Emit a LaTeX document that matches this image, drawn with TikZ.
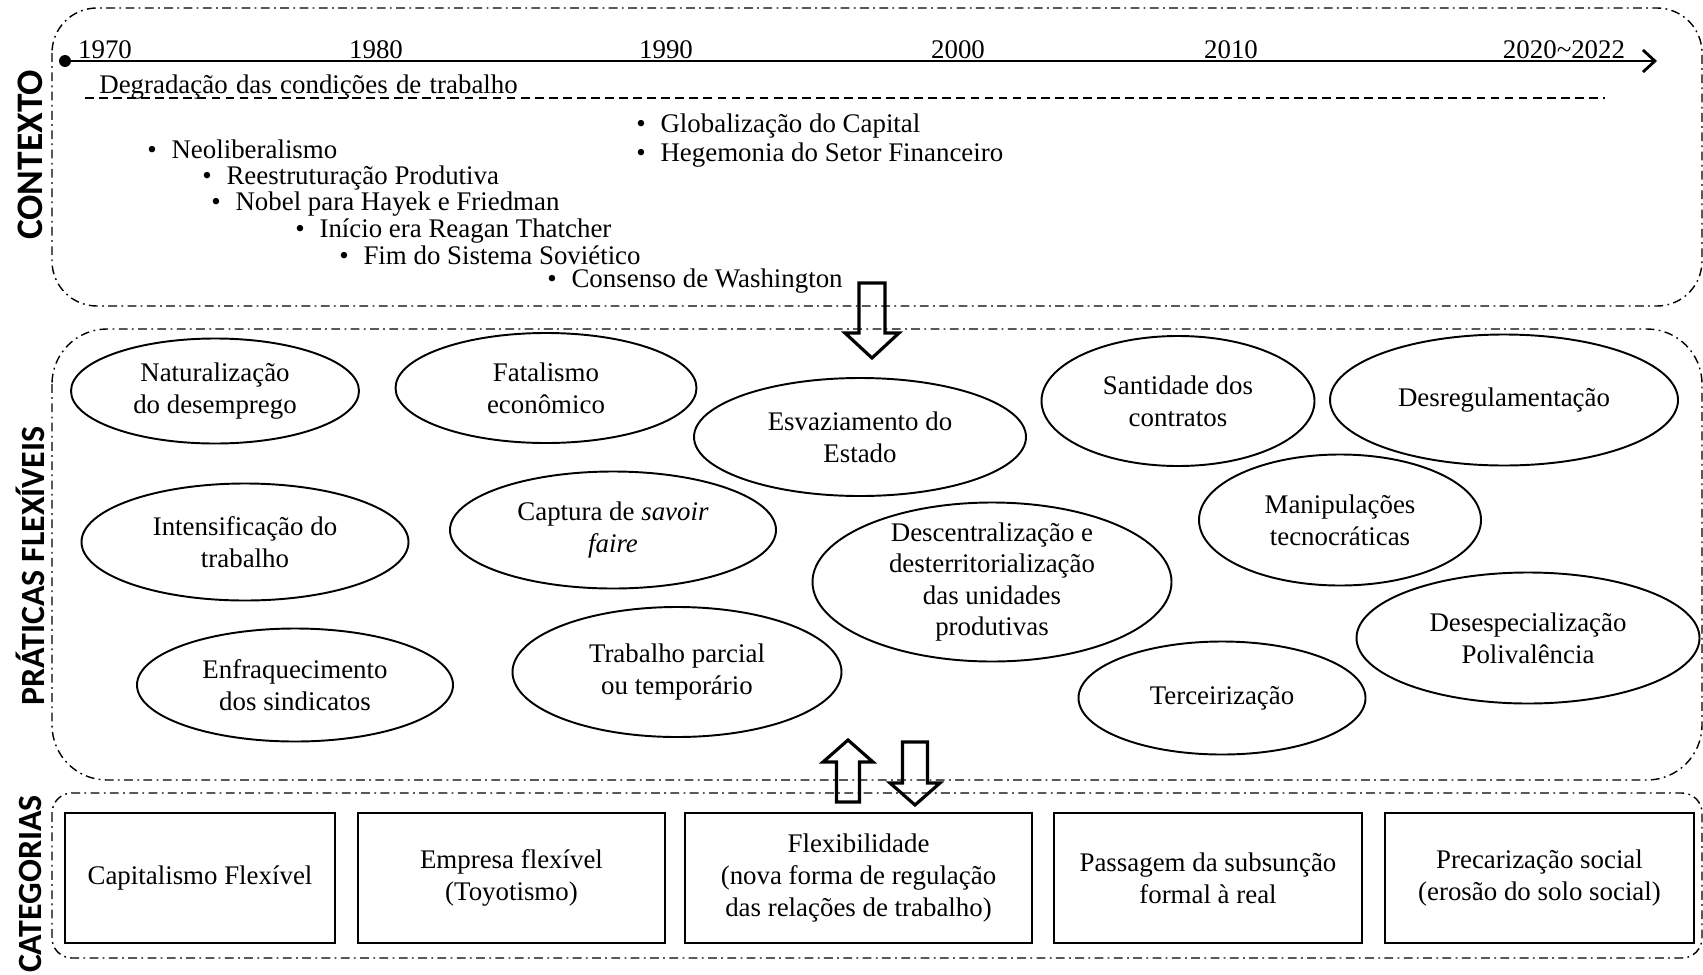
\documentclass[tikz,border=0pt]{standalone}
\usepackage{fontspec}
\setmainfont{Liberation Serif}
\newfontfamily\rotulofont{Carlito}
\usetikzlibrary{shapes.geometric,arrows.meta}

\newlength\upx
\setlength\upx{0.02cm}
\newcommand{\bolinha}{\textbullet\hspace{0.55em}}
% seta de bloco: x, base, base da ponta, ponta, meia haste, meia ponta
\newcommand{\setabloco}[6]{%
  \draw[bloco] (#1-#5,#2) -- (#1-#5,#3) -- (#1-#6,#3) -- (#1,#4) -- (#1+#6,#3) -- (#1+#5,#3) -- (#1+#5,#2) -- cycle;}

\tikzset{
  caixa/.style={draw, line width=0.8pt, dash pattern=on 5pt off 2.5pt on 1pt off 2.5pt},
  pratica/.style={ellipse, draw, line width=1.1pt, inner sep=0pt},
  categoria/.style={rectangle, draw, line width=1.2pt, align=center, minimum height=130\upx, inner sep=0pt},
  texto/.style={align=center, inner sep=0pt},
  rotulo/.style={rotate=90, inner sep=0pt, font=\rotulofont\bfseries\fontsize{#1}{#1}\selectfont},
  rotulo/.default=19.3,
  evento/.style={anchor=base west, inner sep=0pt},
  ano/.style={anchor=south, inner sep=0pt},
  bloco/.style={draw, line width=1.8pt, line join=miter}
}

\begin{document}
\begin{tikzpicture}[x=0.02cm, y=-0.02cm, font=\fontsize{15.3}{18}\selectfont]
    \useasboundingbox (0,0) rectangle (1703,974);

    % Blocos
    \draw[caixa, rounded corners=0.9cm] (52,8) rectangle (1702,306);
    \draw[caixa, rounded corners=1.1cm] (52,329) rectangle (1702,780);
    \draw[caixa, rounded corners=0.4cm] (52,793) rectangle (1702,958);

    \node[rotulo=21.3] (contexto) at (30,155) {CONTEXTO};
    \node[rotulo] (praticas) at (30,566) {PRÁTICAS FLEXÍVEIS};
    \node[rotulo] (categorias) at (30,884) {CATEGORIAS};

    % Linha do tempo
    \coordinate (t0) at (65,61);
    \coordinate (t1) at (1657,61);
    \draw[line width=1.6pt, -{Straight Barb[length=0.24cm,width=0.44cm]}] (t0) -- (t1);
    \fill (t0) circle (0.12cm);

    \node[ano] (a1970) at (105,59) {1970};
    \node[ano] (a1980) at (376,59) {1980};
    \node[ano] (a1990) at (666,59) {1990};
    \node[ano] (a2000) at (958,59) {2000};
    \node[ano] (a2010) at (1231,59) {2010};
    \node[ano] (a2020) at (1564,59) {2020\textasciitilde 2022};

    \node[evento] (degrad) at (99,93) {\spaceskip=0.31em Degradação das condições de trabalho};
    \coordinate (d0) at (85,98);
    \coordinate (d1) at (1605,98);
    \draw[line width=0.9pt, dash pattern=on 5pt off 3pt] (d0) -- (d1);

    \node[evento] (glob) at (636,132) {\bolinha Globalização do Capital};
    \node[evento] (hege) at (636,161) {\bolinha Hegemonia do Setor Financeiro};
    \node[evento] (neol) at (147,158) {\bolinha Neoliberalismo};
    \node[evento] (rees) at (202,184) {\bolinha Reestruturação Produtiva};
    \node[evento] (nobe) at (211,210) {\bolinha Nobel para Hayek e Friedman};
    \node[evento] (inic) at (295,237) {\bolinha Início era Reagan Thatcher};
    \node[evento] (fims) at (339,264) {\bolinha Fim do Sistema Soviético};
    \node[evento] (cons) at (547,287) {\bolinha Consenso de Washington};

    % Praticas flexiveis
    \node[pratica, minimum width=288\upx, minimum height=105\upx] (natur) at (215,391) {}; \node[texto] (natur-t) at (natur) {Naturalização\\do desemprego};
    \node[pratica, minimum width=301\upx, minimum height=110\upx] (fatal) at (546,388) {}; \node[texto] (fatal-t) at (fatal) {Fatalismo\\econômico};
    \node[pratica, minimum width=332\upx, minimum height=118\upx] (esvaz) at (860,437) {}; \node[texto] (esvaz-t) at (esvaz) {Esvaziamento do\\Estado};
    \node[pratica, minimum width=273\upx, minimum height=130\upx] (santi) at (1178,401) {}; \node[texto] (santi-t) at (santi) {Santidade dos\\contratos};
    \node[pratica, minimum width=348\upx, minimum height=131\upx] (desre) at (1504,400) {}; \node[texto] (desre-t) at (desre) {Desregulamentação};
    \node[pratica, minimum width=327\upx, minimum height=117\upx] (inten) at (245,542) {}; \node[texto] (inten-t) at (inten) {Intensificação do\\trabalho};
    \node[pratica, minimum width=326\upx, minimum height=117\upx] (captu) at (613,530) {}; \node[texto] (captu-t) at (captu) {Captura de \textit{savoir}\\\textit{faire}};
    \node[pratica, minimum width=282\upx, minimum height=131\upx] (manip) at (1340,520) {}; \node[texto] (manip-t) at (manip) {Manipulações\\tecnocráticas};
    \node[pratica, minimum width=359\upx, minimum height=159\upx] (desce) at (992,582) {}; \node[texto] (desce-t) at (desce) {Descentralização e\\desterritorialização\\das unidades\\produtivas};
    \node[pratica, minimum width=316\upx, minimum height=113\upx] (enfra) at (295,685) {}; \node[texto] (enfra-t) at (enfra) {Enfraquecimento\\dos sindicatos};
    \node[pratica, minimum width=329\upx, minimum height=130\upx] (parci) at (677,672) {}; \node[texto] (parci-t) at (parci) {Trabalho parcial\\ou temporário};
    \node[pratica, minimum width=343\upx, minimum height=131\upx] (despe) at (1528,638) {}; \node[texto] (despe-t) at (despe) {Desespecialização\\Polivalência};
    \node[pratica, minimum width=287\upx, minimum height=113\upx] (terce) at (1222,698) {}; \node[texto] (terce-t) at (terce) {Terceirização};

    % Categorias
    \node[categoria, minimum width=270\upx] (capit) at (200,878) {Capitalismo Flexível};
    \node[categoria, minimum width=307\upx] (empre) at (511.5,878) {Empresa flexível\\(Toyotismo)};
    \node[categoria, minimum width=347\upx] (flexi) at (858.5,878) {Flexibilidade\\(nova forma de regulação\\das relações de trabalho)};
    \node[categoria, minimum width=308\upx] (passa) at (1208,878) {Passagem da subsunção\\formal à real};
    \node[categoria, minimum width=309\upx] (preca) at (1539.5,878) {Precarização social\\(erosão do solo social)};

    % Setas de bloco
    \setabloco{872}{283}{333}{358}{13}{27}
    \setabloco{848}{802}{762}{740}{11.5}{25}
    \setabloco{915}{742}{783}{805}{12.5}{25}
\end{tikzpicture}
\end{document}
